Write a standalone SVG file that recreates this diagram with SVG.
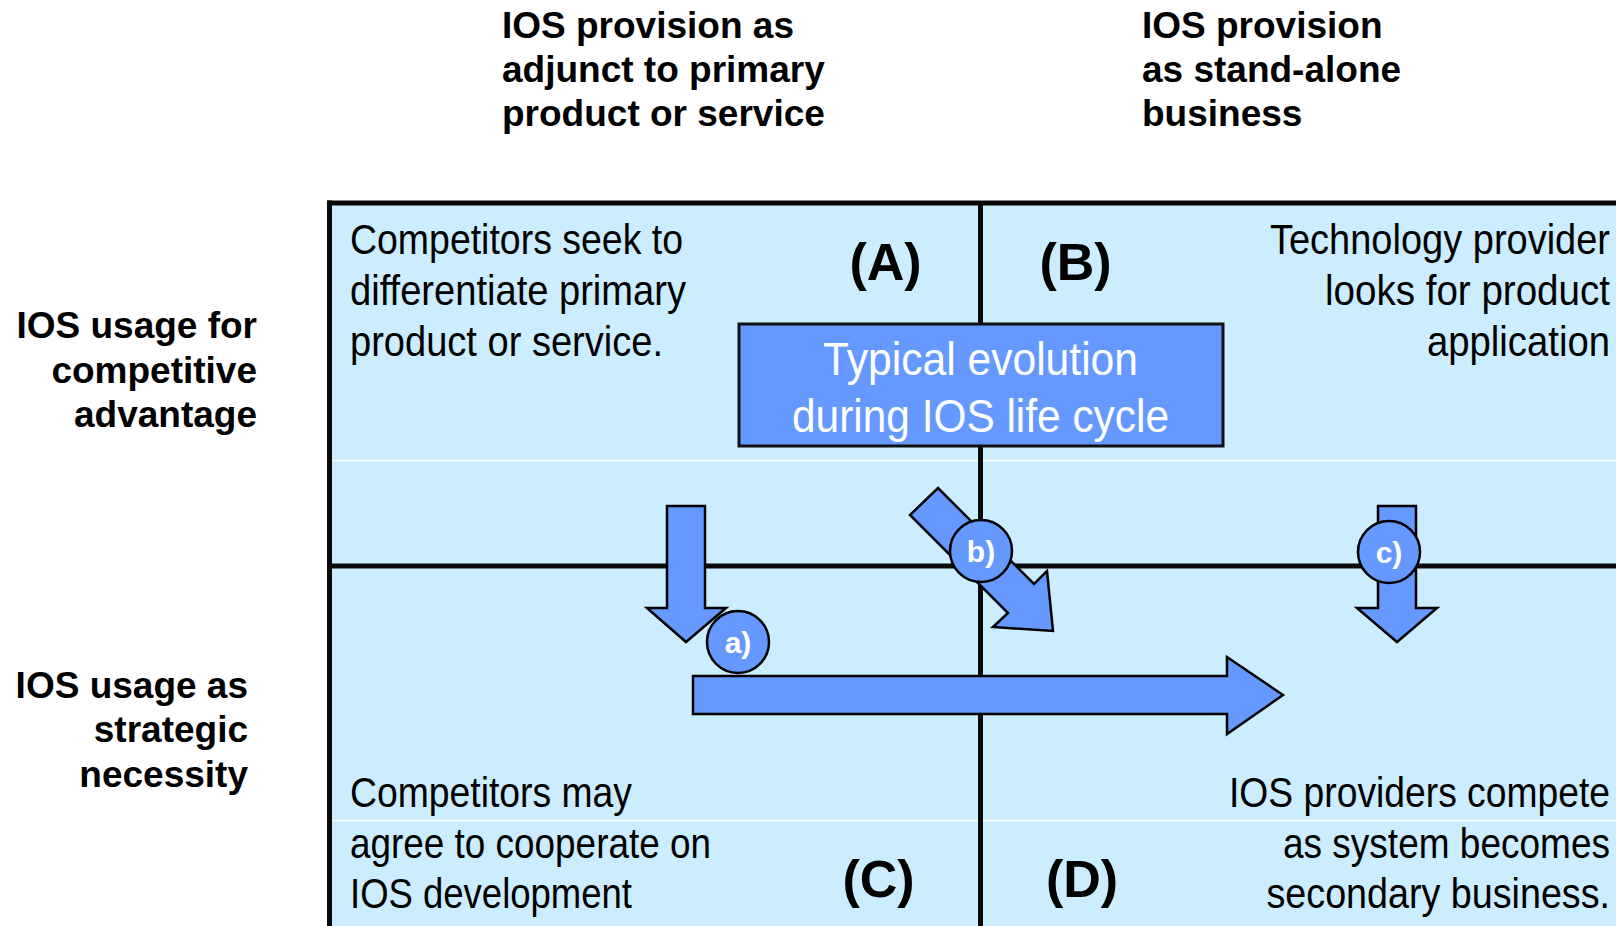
<svg xmlns="http://www.w3.org/2000/svg" width="1616" height="926" viewBox="0 0 1616 926">
<style>
.hdr{font-family:"Liberation Sans",Arial,sans-serif;font-weight:bold;font-size:37px;fill:#000}
.lbl{font-family:"Liberation Sans",Arial,sans-serif;font-weight:bold;font-size:37px;fill:#000;text-anchor:end}
.q{font-family:"Liberation Sans Narrow","Liberation Sans",Arial,sans-serif;font-size:42px;fill:#000}
.qr{font-family:"Liberation Sans Narrow","Liberation Sans",Arial,sans-serif;font-size:42px;fill:#000;text-anchor:end}
.ql{font-family:"Liberation Sans",Arial,sans-serif;font-weight:bold;font-size:52px;fill:#000;text-anchor:middle}
.bx{font-family:"Liberation Sans Narrow","Liberation Sans",Arial,sans-serif;font-size:46px;fill:#fff}
.frame{stroke:#0a0a0a;stroke-width:5;fill:none}
.arrow{fill:#6699FF;stroke:#000;stroke-width:2.5;stroke-linejoin:miter}
.badge{fill:#6699FF;stroke:#000;stroke-width:2.5}
.bt{font-family:"Liberation Sans",Arial,sans-serif;font-weight:bold;font-size:30px;fill:#fff;text-anchor:middle}
</style>

<g id="column-headers">
  <text class="hdr" x="502" y="38">IOS provision as</text>
  <text class="hdr" x="502" y="82">adjunct to primary</text>
  <text class="hdr" x="502" y="126">product or service</text>
  <text class="hdr" x="1142" y="38">IOS provision</text>
  <text class="hdr" x="1142" y="82">as stand-alone</text>
  <text class="hdr" x="1142" y="126">business</text>
</g>

<g id="row-labels">
  <text class="lbl" x="257" y="338">IOS usage for</text>
  <text class="lbl" x="257" y="383">competitive</text>
  <text class="lbl" x="257" y="427">advantage</text>
  <text class="lbl" x="248" y="698">IOS usage as</text>
  <text class="lbl" x="248" y="742">strategic</text>
  <text class="lbl" x="248" y="787">necessity</text>
</g>

<g id="matrix">
  <rect x="329.5" y="203" width="1290" height="730" fill="#CCECFF"/>
  <line x1="332" y1="460.5" x2="1616" y2="460.5" stroke="#ffffff" stroke-width="1.5"/>
  <line x1="332" y1="820.5" x2="1616" y2="820.5" stroke="#ffffff" stroke-width="1.5"/>
  <line class="frame" x1="327" y1="203" x2="1616" y2="203"/>
  <line class="frame" x1="329.5" y1="200.5" x2="329.5" y2="926"/>
  <line class="frame" x1="980.5" y1="203" x2="980.5" y2="926"/>
  <line class="frame" x1="329.5" y1="566" x2="1616" y2="566"/>
</g>

<g id="quadrant-A">
  <text class="q" x="350" y="254" textLength="333" lengthAdjust="spacingAndGlyphs">Competitors seek to</text>
  <text class="q" x="350" y="305" textLength="336" lengthAdjust="spacingAndGlyphs">differentiate primary</text>
  <text class="q" x="350" y="356" textLength="313" lengthAdjust="spacingAndGlyphs">product or service.</text>
  <text class="ql" x="885.5" y="280">(A)</text>
</g>

<g id="quadrant-B">
  <text class="qr" x="1610" y="254" textLength="340" lengthAdjust="spacingAndGlyphs">Technology provider</text>
  <text class="qr" x="1610" y="305" textLength="285" lengthAdjust="spacingAndGlyphs">looks for product</text>
  <text class="qr" x="1610" y="356" textLength="183" lengthAdjust="spacingAndGlyphs">application</text>
  <text class="ql" x="1075.5" y="280">(B)</text>
</g>

<g id="quadrant-C">
  <text class="q" x="350" y="807" textLength="282" lengthAdjust="spacingAndGlyphs">Competitors may</text>
  <text class="q" x="350" y="858" textLength="361" lengthAdjust="spacingAndGlyphs">agree to cooperate on</text>
  <text class="q" x="350" y="908" textLength="282" lengthAdjust="spacingAndGlyphs">IOS development</text>
  <text class="ql" x="878.5" y="897">(C)</text>
</g>

<g id="quadrant-D">
  <text class="qr" x="1610" y="807" textLength="381" lengthAdjust="spacingAndGlyphs">IOS providers compete</text>
  <text class="qr" x="1610" y="858" textLength="327" lengthAdjust="spacingAndGlyphs">as system becomes</text>
  <text class="qr" x="1610" y="908" textLength="343.5" lengthAdjust="spacingAndGlyphs">secondary business.</text>
  <text class="ql" x="1082" y="897">(D)</text>
</g>

<g id="evolution-box">
  <rect x="739" y="324" width="484" height="122" fill="#6699FF" stroke="#111" stroke-width="3"/>
  <text class="bx" x="823" y="375" textLength="315" lengthAdjust="spacingAndGlyphs">Typical evolution</text>
  <text class="bx" x="792" y="432" textLength="377" lengthAdjust="spacingAndGlyphs">during IOS life cycle</text>
</g>

<g id="connectors">
  <polygon id="arrow-main" class="arrow" points="693,676 1227,676 1227,657 1283,695 1227,734 1227,714 693,714"/>
  <polygon id="arrow-a" class="arrow" points="667,506 705,506 705,608 726,608 686,642 647,608 667,608"/>
  <polygon id="arrow-b" class="arrow" points="938,488 1034,584 1047,571 1053,631 993,627 1008,613 910,515"/>
  <polygon id="arrow-c" class="arrow" points="1378,506 1416,506 1416,608 1437,608 1397,642 1357,608 1378,608"/>
</g>

<g id="badge-a">
  <circle class="badge" cx="738" cy="642" r="31"/>
  <text class="bt" x="738" y="653">a)</text>
</g>
<g id="badge-b">
  <circle class="badge" cx="981" cy="551" r="31"/>
  <text class="bt" x="981" y="562">b)</text>
</g>
<g id="badge-c">
  <circle class="badge" cx="1389" cy="552" r="31"/>
  <text class="bt" x="1389" y="563">c)</text>
</g>
</svg>
